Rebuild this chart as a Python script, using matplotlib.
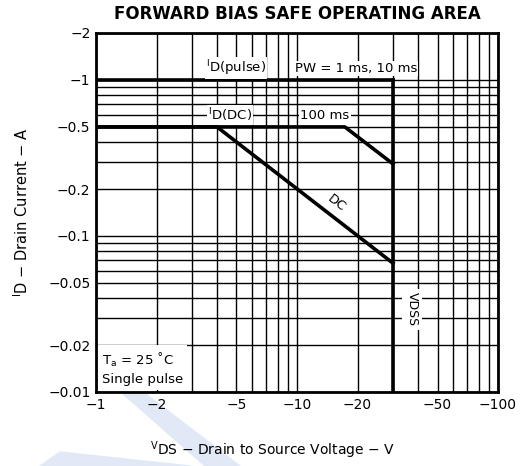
import numpy as np
import matplotlib
matplotlib.use("Agg")
import matplotlib.pyplot as plt
from matplotlib.patches import Polygon

plt.rcParams['font.family'] = ['DejaVu Sans']
plt.rcParams['mathtext.fontset'] = 'dejavusans'

M = '\u2212'

# axis ticks
x_ticks = [1, 2, 5, 10, 20, 50, 100]
x_labels = [M + '1', M + '2', M + '5', M + '10', M + '20', M + '50', M + '100']
y_ticks = [0.01, 0.02, 0.05, 0.1, 0.2, 0.5, 1, 2]
y_labels = [M + '0.01', M + '0.02', M + '0.05', M + '0.1', M + '0.2', M + '0.5', M + '1', M + '2']
x_minor = [3, 4, 6, 7, 8, 9, 30, 40, 60, 70, 80, 90]
y_minor = [0.03, 0.04, 0.06, 0.07, 0.08, 0.09, 0.3, 0.4, 0.6, 0.7, 0.8, 0.9]

# SOA boundaries (V, A)
pulse_v = [-1, -30]
pulse_i = [-1, -1]
dc_v = [-1, -4, -30]
dc_i = [-0.5, -0.5, -0.067]
ms100_v = [-1, -17.3, -30]
ms100_i = [-0.5, -0.5, -0.29]
vdss_v = [-30, -30]
vdss_i = [-1, -0.01]

fig = plt.figure(figsize=(5.24, 4.66), dpi=100)
ax = fig.add_axes([0.1832, 0.1588, 0.7672, 0.7704])

# faint watermark bands from the scanned page
fig.patches.append(Polygon([(105/524, 1-378/466), (125/524, 1-378/466), (240/524, 0), (205/524, 0)],
                           closed=True, transform=fig.transFigure, color='#e2e9f6', zorder=-1))
fig.patches.append(Polygon([(40/524, 0), (60/524, 1-452/466), (190/524, 0)],
                           closed=True, transform=fig.transFigure, color='#e2e9f6', zorder=-1))

ax.set_xscale('log')
ax.set_yscale('log')
ax.set_xlim(1, 100)
ax.set_ylim(0.01, 2)

ax.set_xticks(x_ticks)
ax.set_xticklabels(x_labels, fontsize=10)
ax.set_yticks(y_ticks)
ax.set_yticklabels(y_labels, fontsize=10)
ax.set_xticks(x_minor, minor=True)
ax.set_yticks(y_minor, minor=True)
ax.set_xticklabels([], minor=True)
ax.set_yticklabels([], minor=True)
ax.tick_params(which='both', length=0, pad=4)
ax.grid(True, which='both', color='black', linewidth=1.0)
ax.set_axisbelow(True)
for s in ax.spines.values():
    s.set_linewidth(2)

lw = 2.6
ax.plot(np.abs(pulse_v), np.abs(pulse_i), color='black', lw=lw)
ax.plot(np.abs(dc_v), np.abs(dc_i), color='black', lw=lw)
ax.plot(np.abs(ms100_v), np.abs(ms100_i), color='black', lw=lw)
ax.plot(np.abs(vdss_v), np.abs(vdss_i), color='black', lw=lw)

box = dict(facecolor='white', edgecolor='none', pad=0.8)
ax.text(4.97, 1.19, r'${}^{\mathregular{I}}$D(pulse)', fontsize=9.5, ha='center', va='center', bbox=box)
ax.text(19.7, 1.19, 'PW = 1 ms, 10 ms', fontsize=9.5, ha='center', va='center', bbox=box)
ax.text(4.64, 0.595, r'${}^{\mathregular{I}}$D(DC)', fontsize=9.5, ha='center', va='center', bbox=box)
ax.text(13.8, 0.595, '100 ms', fontsize=9.5, ha='center', va='center', bbox=box)
ax.text(15.8, 0.163, 'DC', fontsize=9.5, ha='center', va='center', rotation=-38,
        rotation_mode='anchor')
ax.text(37.3, 0.034, 'VDSS', fontsize=9, ha='center', va='center', rotation=270,
        bbox=dict(facecolor='white', edgecolor='none', pad=2.5))
ax.text(1.07, 0.0109, 'T$_{\\mathregular{a}}$ = 25 \u02daC\nSingle pulse', fontsize=9.5, ha='left', va='bottom',
        linespacing=1.45, bbox=dict(facecolor='white', edgecolor='none', pad=3))

ax.set_title('FORWARD BIAS SAFE OPERATING AREA', fontsize=12, fontweight='bold', pad=10)
ax.set_ylabel(r'${}^{\mathregular{I}}$D ' + M + ' Drain Current ' + M + ' A', fontsize=10.5, labelpad=12)
fig.text(272/524, 1-450/466, r'${}^{\mathregular{V}}$DS ' + M + ' Drain to Source Voltage ' + M + ' V',
         fontsize=10, ha='center', va='center')

fig.savefig('out.png', dpi=100)
